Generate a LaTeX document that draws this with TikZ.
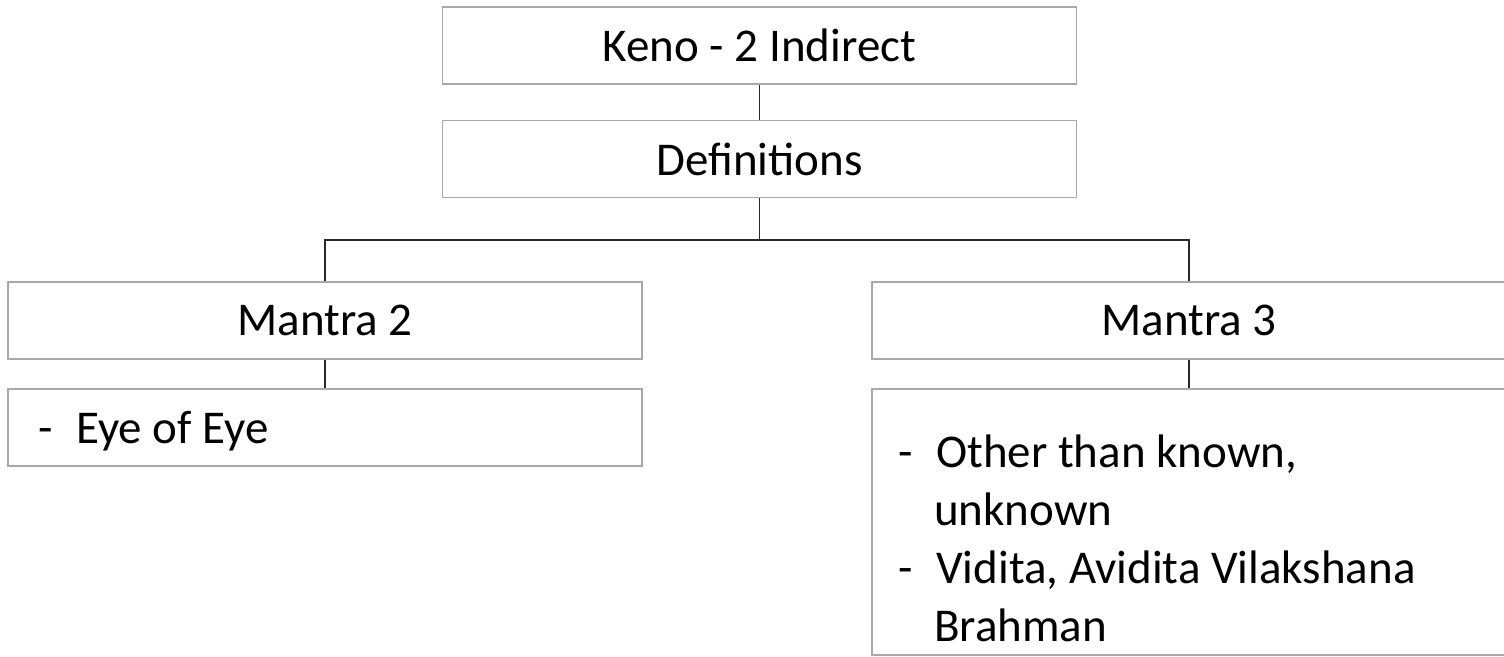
\documentclass[tikz,border=0pt]{standalone}
\usepackage{fontspec}
\setmainfont{Carlito}
\definecolor{boxline}{RGB}{168,168,168}
\definecolor{linkline}{RGB}{40,40,40}
\begin{document}
\begin{tikzpicture}[x=1pt,y=-1pt,
  every node/.style={font=\fontsize{47}{58}\selectfont, text=black},
  card/.style={draw=boxline, line width=1.8pt, fill=white, inner sep=0pt,
               minimum width=634pt, minimum height=77pt},
  tall/.style={card, minimum height=266pt},
  link/.style={draw=linkline, line width=1.6pt},
  itemtext/.style={anchor=base west, inner sep=0pt, align=left}
]
\useasboundingbox (0,0) rectangle (1504,656);

% top of the hierarchy
\node[card] (keno) at (759.5,45.5) {Keno - 2 Indirect};
\node[card] (defs) at (759.5,159) {Definitions};

% the two mantras
\node[card] (m2) at (325,320.5) {Mantra 2};
\node[card] (m3) at (1189,320.5) {Mantra 3};

% detail boxes
\node[card] (m2box) at (325,427.5) {};
\node[tall] (m3box) at (1189,522) {};

\newcommand{\dashitem}[1]{\makebox[38pt][l]{-}#1}
\newcommand{\contitem}[1]{\hspace{36pt}#1}

\node[itemtext] (m2text) at (38,443) {\dashitem{Eye of Eye}};
% base anchor of a multi-line node sits on its last line
\node[itemtext] (m3text) at (898,641)
  {\dashitem{Other than known,}\\ \contitem{unknown}\\
   \dashitem{Vidita, Avidita Vilakshana}\\ \contitem{Brahman}};

% connectors
\coordinate (bus) at (759.5,240);
\draw[link] (keno.south) -- (defs.north);
\draw[link] (defs.south) -- (bus);
\draw[link] (m2.north) |- (bus) -| (m3.north);
\draw[link] (m2.south) -- (m2box.north);
\draw[link] (m3.south) -- (m3box.north);
\end{tikzpicture}
\end{document}
